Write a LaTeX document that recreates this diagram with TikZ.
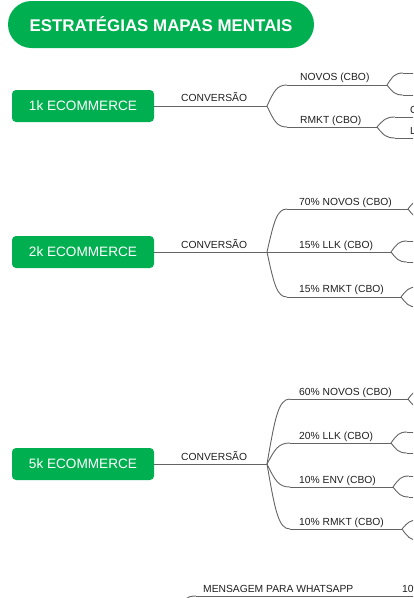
\documentclass[tikz,border=0pt]{standalone}
\usepackage{fontspec}
\setmainfont{Liberation Sans}
\usetikzlibrary{calc}
\definecolor{mmgreen}{RGB}{0,176,80}
\definecolor{mmline}{RGB}{100,100,100}
\definecolor{mmtext}{RGB}{30,30,30}
\tikzset{
  ln/.style={draw=mmline,line width=0.9pt},
  gbox/.style={fill=mmgreen,rounded corners=4pt,minimum width=142pt,minimum height=32pt,inner sep=0pt,text=white,font=\fontsize{13.6}{16}\selectfont},
  lbl/.style={anchor=base west,inner sep=0pt,text=mmtext,font=\fontsize{10.3}{12}\selectfont},
}
\newcommand\mmcurve[2]{\draw[ln] let \p1=(#1), \p2=(#2) in (\p1) .. controls ({\x1+0.35*(\x2-\x1)},{\y1+0.72*(\y2-\y1)}) and ({\x2-0.5*(\x2-\x1)},\y2) .. (\p2);}
% fork at the right edge: #1 fork point, #2 name prefix, #3 up y, #4 down y, #5 dx
\newcommand\mmfork[5]{%
  \path (#1) +(#5,0) coordinate (#2tmp);
  \coordinate (#2u) at (#2tmp |- 0,#3);
  \coordinate (#2d) at (#2tmp |- 0,#4);
  \coordinate (#2ue) at (430,#3);
  \coordinate (#2de) at (430,#4);
  \mmcurve{#1}{#2u}\draw[ln] (#2u) -- (#2ue);
  \mmcurve{#1}{#2d}\draw[ln] (#2d) -- (#2de);}
\begin{document}
\begin{tikzpicture}[x=1pt,y=-1pt]
\useasboundingbox (0,0) rectangle (413,598);
\clip (0,0) rectangle (413,598);
% title
\node[fill=mmgreen,rounded corners=23.5pt,minimum width=306pt,minimum height=47pt,inner sep=0pt,text=white,font=\fontsize{16.9}{19}\selectfont\bfseries] (title) at (161,24.5) {ESTRATÉGIAS MAPAS MENTAIS};
% ---------- 1k
\node[gbox] (k1) at (83,106) {1k ECOMMERCE};
\coordinate (b1) at (267,106);
\draw[ln] (k1.east) -- (b1);
\node[lbl] (k1c) at (181,101) {CONVERSÃO};
\coordinate (e1a) at (287,85); \coordinate (f1a) at (387,85);
\coordinate (e1b) at (287,127); \coordinate (f1b) at (377,127);
\mmcurve{b1}{e1a}\draw[ln] (e1a) -- (f1a);
\mmcurve{b1}{e1b}\draw[ln] (e1b) -- (f1b);
\node[lbl] (l1a) at (300,80) {NOVOS (CBO)};
\node[lbl] (l1b) at (300,123) {RMKT (CBO)};
\mmfork{f1a}{g1a}{73}{95}{16}
\mmfork{f1b}{g1b}{117}{138}{18}
\node[lbl] (p1) at (410,113) {C};
\node[lbl] (p2) at (410,134) {L};
% ---------- 2k
\node[gbox] (k2) at (83,252) {2k ECOMMERCE};
\coordinate (b2) at (267,252);
\draw[ln] (k2.east) -- (b2);
\node[lbl] (k2c) at (181,248) {CONVERSÃO};
\coordinate (e2a) at (287,209); \coordinate (f2a) at (408,209);
\coordinate (f2b) at (391,252);
\coordinate (e2c) at (287,297); \coordinate (f2c) at (401,297);
\mmcurve{b2}{e2a}\draw[ln] (e2a) -- (f2a);
\draw[ln] (b2) -- (f2b);
\mmcurve{b2}{e2c}\draw[ln] (e2c) -- (f2c);
\node[lbl] (l2a) at (299,205) {70\% NOVOS (CBO)};
\node[lbl] (l2b) at (299,248) {15\% LLK (CBO)};
\node[lbl] (l2c) at (299,292) {15\% RMKT (CBO)};
\mmfork{f2a}{g2a}{199}{219}{16}
\mmfork{f2b}{g2b}{241}{262}{16}
\mmfork{f2c}{g2c}{287}{307}{16}
% ---------- 5k
\node[gbox] (k5) at (83,464) {5k ECOMMERCE};
\coordinate (b5) at (267,464);
\draw[ln] (k5.east) -- (b5);
\node[lbl] (k5c) at (181,460) {CONVERSÃO};
\coordinate (e5a) at (290,399); \coordinate (f5a) at (408,399);
\coordinate (e5b) at (290,443); \coordinate (f5b) at (391,443);
\coordinate (e5c) at (290,487); \coordinate (f5c) at (393,487);
\coordinate (e5d) at (290,529); \coordinate (f5d) at (402,529);
\mmcurve{b5}{e5a}\draw[ln] (e5a) -- (f5a);
\mmcurve{b5}{e5b}\draw[ln] (e5b) -- (f5b);
\mmcurve{b5}{e5c}\draw[ln] (e5c) -- (f5c);
\mmcurve{b5}{e5d}\draw[ln] (e5d) -- (f5d);
\node[lbl] (l5a) at (299,395) {60\% NOVOS (CBO)};
\node[lbl] (l5b) at (299,439) {20\% LLK (CBO)};
\node[lbl] (l5c) at (299,483) {10\% ENV (CBO)};
\node[lbl] (l5d) at (299,525) {10\% RMKT (CBO)};
\mmfork{f5a}{g5a}{389}{409}{16}
\mmfork{f5b}{g5b}{432}{453}{16}
\mmfork{f5c}{g5c}{476}{497}{16}
\mmfork{f5d}{g5d}{520}{540}{16}
% ---------- bottom
\node[lbl] (wa) at (203,592) {MENSAGEM PARA WHATSAPP};
\node[lbl] (wb) at (402,592) {10\%};
\coordinate (bb) at (176,610); \coordinate (eb) at (196,596); \coordinate (fb) at (430,596);
\mmcurve{bb}{eb}\draw[ln] (eb) -- (fb);
\end{tikzpicture}
\end{document}
